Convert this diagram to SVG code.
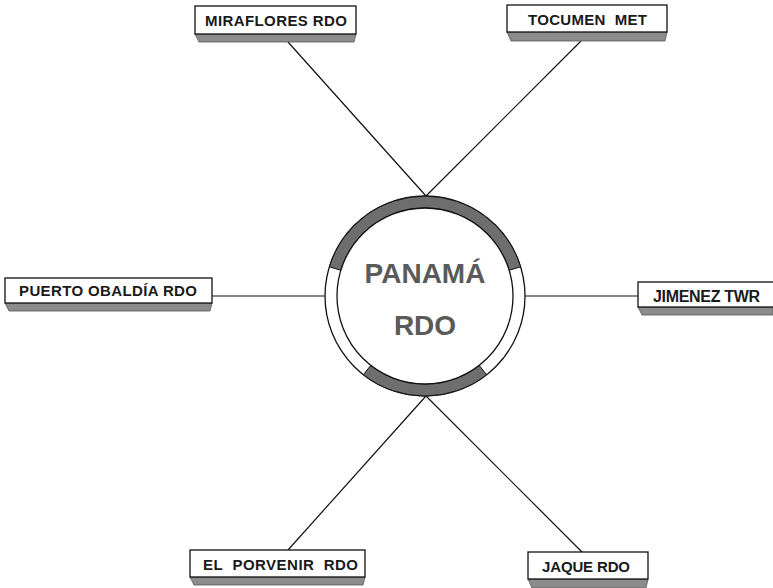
<svg xmlns="http://www.w3.org/2000/svg" width="773" height="588" viewBox="0 0 773 588">
<style>
.face{fill:#fff;stroke:#111;stroke-width:1.3}
.bev{fill:#8c8c8c;stroke:#555;stroke-width:0.8}
.lbl{font-family:"Liberation Sans",Arial,sans-serif;font-weight:bold;font-size:15px;fill:#1a1a1a}
.conn{stroke:#111;stroke-width:1.2;fill:none}
.big{font-family:"Liberation Sans",Arial,sans-serif;font-weight:bold;font-size:28px;fill:#5a5a5a;text-anchor:middle}
</style>
<rect width="773" height="588" fill="#fff"/>
<g id="connectors">
<line class="conn" x1="288" y1="42" x2="426" y2="196"/>
<line class="conn" x1="581" y1="41" x2="426" y2="196"/>
<line class="conn" x1="212" y1="296" x2="325" y2="296"/>
<line class="conn" x1="525" y1="296" x2="638" y2="296"/>
<line class="conn" x1="426" y1="396" x2="288" y2="550"/>
<line class="conn" x1="426" y1="396" x2="582" y2="552"/>
</g>
<g id="panama">
<circle cx="425" cy="296" r="100" fill="#fff" stroke="#111" stroke-width="1.3"/>
<path d="M 329.4 266.8 A 100 100 0 0 1 520.6 266.8 L 509.2 270.3 A 88 88 0 0 0 340.8 270.3 Z" fill="#6e6e6e" stroke="#111" stroke-width="1"/>
<path d="M 363.4 374.8 A 100 100 0 0 0 486.6 374.8 L 479.2 365.3 A 88 88 0 0 1 370.8 365.3 Z" fill="#6e6e6e" stroke="#111" stroke-width="1"/>
<circle cx="425" cy="296" r="88" fill="#fff" stroke="#111" stroke-width="1.3"/>
<text class="big" x="425" y="283">PANAMÁ</text>
<text class="big" x="425" y="335">RDO</text>
</g>
<g id="miraflores">
<polygon class="bev" points="195,34 356,34 354,42 199,42"/>
<rect class="face" x="195" y="6" width="161" height="28"/>
<text class="lbl" x="205" y="26" textLength="142">MIRAFLORES RDO</text>
</g>
<g id="tocumen">
<polygon class="bev" points="507,32 667,32 665,41 511,41"/>
<rect class="face" x="507" y="5" width="160" height="27"/>
<text class="lbl" x="528" y="25" textLength="119">TOCUMEN&#160; MET</text>
</g>
<g id="puerto">
<polygon class="bev" points="5,303 212,303 210,311 9,311"/>
<rect class="face" x="5" y="278" width="207" height="25"/>
<text class="lbl" x="19" y="296" textLength="178">PUERTO OBALDÍA RDO</text>
</g>
<g id="jimenez">
<polygon class="bev" points="638,307 773,307 773,315 642,315"/>
<rect class="face" x="638" y="282" width="140" height="25"/>
<text class="lbl" x="653" y="302" textLength="107" style="font-size:16px">JIMENEZ TWR</text>
</g>
<g id="porvenir">
<polygon class="bev" points="190,577 365,577 363,585 194,585"/>
<rect class="face" x="190" y="550" width="175" height="27"/>
<text class="lbl" x="203" y="570" textLength="155">EL&#160; PORVENIR&#160; RDO</text>
</g>
<g id="jaque">
<polygon class="bev" points="528,579 648,579 646,588 532,588"/>
<rect class="face" x="528" y="552" width="120" height="27"/>
<text class="lbl" x="542" y="572" textLength="88">JAQUE RDO</text>
</g>
</svg>
